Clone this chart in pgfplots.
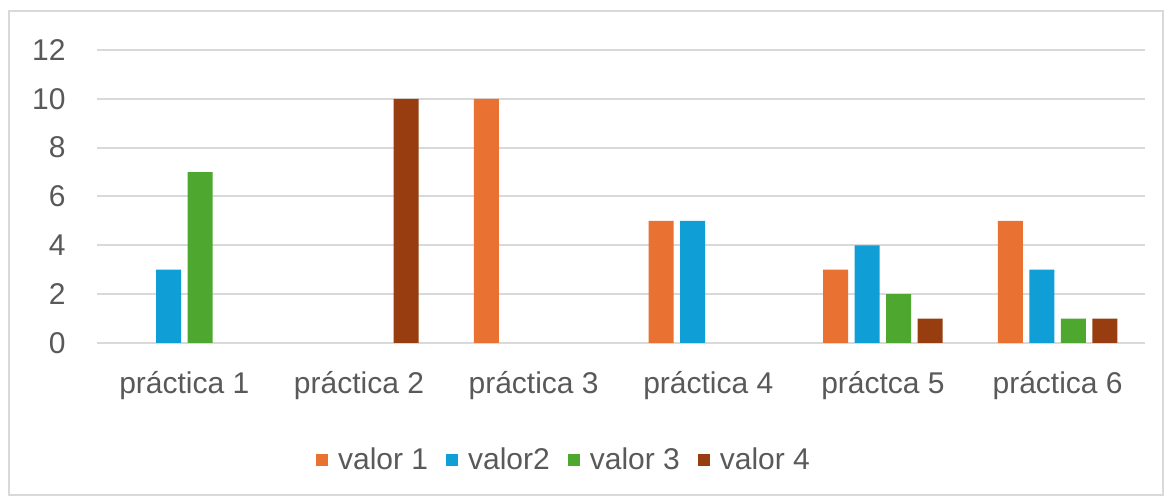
\documentclass[border=0pt]{standalone}
\usepackage{pgfplots}
\pgfplotsset{compat=1.18}
\usepackage{fontspec}
\setmainfont{Liberation Sans}
\definecolor{txt}{HTML}{595959}
\definecolor{gridc}{HTML}{D9D9D9}
\definecolor{c1}{HTML}{E97132}
\definecolor{c2}{HTML}{0F9ED5}
\definecolor{c3}{HTML}{4EA72E}
\definecolor{c4}{HTML}{973D10}
\begin{document}
\begin{tikzpicture}
\begin{axis}[
  scale only axis,
  width=524pt, height=146.5pt,
  ybar=3.25pt, bar width=12.5pt,
  xmin=-0.5, xmax=5.5, ymin=0, ymax=12,
  xtick={0,1,2,3,4,5},
  xticklabels={práctica 1, práctica 2, práctica 3, práctica 4, práctca 5, práctica 6},
  ytick={0,2,4,6,8,10,12},
  ymajorgrids, xmajorgrids=false, grid style={draw=gridc, line width=1pt},
  axis line style={draw=none},
  major tick length=0pt,
  /pgf/number format/assume math mode=true,
  tick label style={font=\fontsize{15}{17}\selectfont, text=txt},
  yticklabel style={anchor=east, inner sep=0pt, xshift=-15.5pt},
  xticklabel style={anchor=north, inner sep=0pt, yshift=-14pt},
  legend columns=4,
  legend style={draw=none, fill=none, at={(0.4466,-0.399)}, anchor=center,
    font=\fontsize{15}{17}\selectfont, text=txt,
    /tikz/every odd column/.append style={column sep=3pt},
    /tikz/every even column/.append style={column sep=7pt}},
  legend image code/.code={\path[#1,draw=none] (0pt,-3pt) rectangle (6pt,3pt);},
]
\addplot[fill=c1, draw=none] coordinates {(2,10) (3,5) (4,3) (5,5)};
\addplot[fill=c2, draw=none] coordinates {(0,3) (3,5) (4,4) (5,3)};
\addplot[fill=c3, draw=none] coordinates {(0,7) (4,2) (5,1)};
\addplot[fill=c4, draw=none] coordinates {(1,10) (4,1) (5,1)};
\legend{valor 1, valor2, valor 3, valor 4}
\end{axis}
\draw[gridc, line width=1pt] (-44pt,-76pt) rectangle (533pt,166pt);
\pgfresetboundingbox
\path (-48.5pt,-79.5pt) rectangle (537.5pt,171.5pt);
\end{tikzpicture}
\end{document}
